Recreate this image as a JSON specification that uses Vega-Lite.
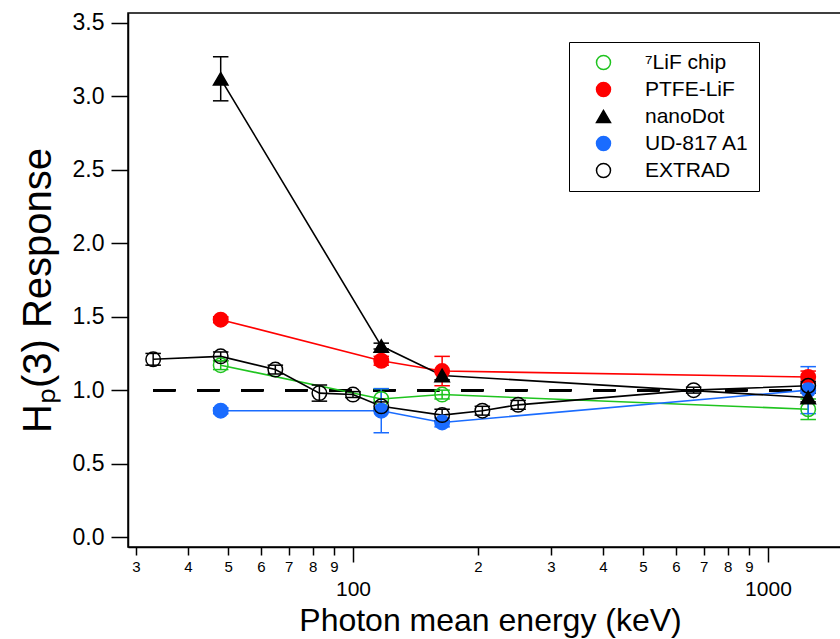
{
  "$schema": "https://vega.github.io/schema/vega-lite/v6.json",
  "width": 724,
  "height": 534,
  "autosize": {"type": "none"},
  "padding": {"left": 128, "top": 13, "right": 0, "bottom": 92},
  "background": "white",
  "config": {
    "font": "Liberation Sans",
    "view": {"stroke": "black", "strokeWidth": 1.5},
    "axis": {
      "grid": false,
      "domainColor": "black",
      "domainWidth": 1.5,
      "tickColor": "black",
      "tickWidth": 1.5,
      "labelColor": "black",
      "titleColor": "black",
      "labelFont": "Liberation Sans",
      "titleFont": "Liberation Sans",
      "titleFontWeight": "normal"
    }
  },
  "data": {
    "values": [
      {"series": "PTFE-LiF", "energy": 48, "response": 1.48, "lo": 1.46, "hi": 1.50},
      {"series": "PTFE-LiF", "energy": 117, "response": 1.20, "lo": 1.17, "hi": 1.23},
      {"series": "PTFE-LiF", "energy": 164, "response": 1.13, "lo": 1.03, "hi": 1.23},
      {"series": "PTFE-LiF", "energy": 1250, "response": 1.09, "lo": 1.05, "hi": 1.13},
      {"series": "⁷LiF chip", "energy": 48, "response": 1.17, "lo": 1.14, "hi": 1.20},
      {"series": "⁷LiF chip", "energy": 117, "response": 0.94, "lo": 0.87, "hi": 1.01},
      {"series": "⁷LiF chip", "energy": 164, "response": 0.97, "lo": 0.94, "hi": 1.00},
      {"series": "⁷LiF chip", "energy": 1250, "response": 0.87, "lo": 0.80, "hi": 0.94},
      {"series": "UD-817 A1", "energy": 48, "response": 0.86, "lo": 0.84, "hi": 0.88},
      {"series": "UD-817 A1", "energy": 117, "response": 0.86, "lo": 0.71, "hi": 1.01},
      {"series": "UD-817 A1", "energy": 164, "response": 0.78, "lo": 0.75, "hi": 0.81},
      {"series": "UD-817 A1", "energy": 1250, "response": 1.00, "lo": 0.84, "hi": 1.16},
      {"series": "nanoDot", "energy": 48, "response": 3.12, "lo": 2.97, "hi": 3.27},
      {"series": "nanoDot", "energy": 117, "response": 1.30, "lo": 1.28, "hi": 1.32},
      {"series": "nanoDot", "energy": 164, "response": 1.10, "lo": 1.07, "hi": 1.13},
      {"series": "nanoDot", "energy": 1250, "response": 0.95, "lo": 0.92, "hi": 0.98},
      {"series": "EXTRAD", "energy": 33, "response": 1.21, "lo": 1.17, "hi": 1.25},
      {"series": "EXTRAD", "energy": 48, "response": 1.23, "lo": 1.20, "hi": 1.26},
      {"series": "EXTRAD", "energy": 65, "response": 1.14, "lo": 1.11, "hi": 1.17},
      {"series": "EXTRAD", "energy": 83, "response": 0.98, "lo": 0.925, "hi": 1.035},
      {"series": "EXTRAD", "energy": 100, "response": 0.97, "lo": 0.95, "hi": 0.99},
      {"series": "EXTRAD", "energy": 117, "response": 0.89, "lo": 0.86, "hi": 0.92},
      {"series": "EXTRAD", "energy": 164, "response": 0.83, "lo": 0.79, "hi": 0.87},
      {"series": "EXTRAD", "energy": 205, "response": 0.86, "lo": 0.83, "hi": 0.89},
      {"series": "EXTRAD", "energy": 250, "response": 0.90, "lo": 0.87, "hi": 0.93},
      {"series": "EXTRAD", "energy": 662, "response": 1.00, "lo": 0.98, "hi": 1.02},
      {"series": "EXTRAD", "energy": 1250, "response": 1.03, "lo": 1.00, "hi": 1.06}
    ]
  },
  "encoding": {
    "x": {
      "field": "energy",
      "type": "quantitative",
      "scale": {"type": "log", "domain": [28.7, 1594], "nice": false},
      "axis": {
        "title": "Photon mean energy (keV)",
        "titleFontSize": 32,
        "titleBaseline": "alphabetic",
        "titleY": 83,
        "values": [30, 40, 50, 60, 70, 80, 90, 100, 200, 300, 400, 500, 600, 700, 800, 900, 1000],
        "labelExpr": "datum.value == 100 || datum.value == 1000 ? format(datum.value, 'd') : datum.value < 100 ? format(datum.value / 10, 'd') : format(datum.value / 100, 'd')",
        "labelFontSize": {"condition": {"test": "datum.value == 100 || datum.value == 1000", "value": 21}, "value": 15},
        "tickSize": {"condition": {"test": "datum.value == 100 || datum.value == 1000", "value": 15}, "value": 8},
        "labelPadding": {"condition": {"test": "datum.value == 100 || datum.value == 1000", "value": 16}, "value": 4},
        "labelFlush": false,
        "labelOverlap": false
      }
    },
    "y": {
      "field": "response",
      "type": "quantitative",
      "scale": {"domain": [-0.068, 3.568], "nice": false, "zero": false},
      "axis": {
        "title": "Hₚ(3) Response",
        "titleFontSize": 40,
        "titleBaseline": "alphabetic",
        "titleAngle": -90,
        "titleX": -78,
        "titleY": 277,
        "titleAlign": "center",
        "values": [0, 0.5, 1, 1.5, 2, 2.5, 3, 3.5],
        "format": ".1f",
        "labelFontSize": 23,
        "tickSize": 17,
        "labelPadding": 7
      }
    },
    "stroke": {
      "field": "series",
      "type": "nominal",
      "scale": {
        "domain": ["⁷LiF chip", "PTFE-LiF", "nanoDot", "UD-817 A1", "EXTRAD"],
        "range": ["#1fc41f", "#ff0000", "#000000", "#1a6cff", "#000000"]
      }
    }
  },
  "layer": [
    {
      "mark": {"type": "rule", "strokeDash": [22, 22], "strokeWidth": 2, "color": "black"},
      "encoding": {
        "x": {"datum": 33},
        "x2": {"datum": 1250},
        "y": {"datum": 1},
        "stroke": {"value": "black"}
      }
    },
    {
      "mark": {"type": "line", "strokeWidth": 1.6}
    },
    {
      "mark": {"type": "rule", "strokeWidth": 1.5},
      "encoding": {
        "y": {"field": "lo", "type": "quantitative"},
        "y2": {"field": "hi"}
      }
    },
    {
      "mark": {"type": "tick", "orient": "horizontal", "size": 14, "thickness": 0.01, "filled": false, "strokeWidth": 1.5, "opacity": 1},
      "encoding": {
        "y": {"field": "lo", "type": "quantitative"}
      }
    },
    {
      "mark": {"type": "tick", "orient": "horizontal", "size": 14, "thickness": 0.01, "filled": false, "strokeWidth": 1.5, "opacity": 1},
      "encoding": {
        "y": {"field": "hi", "type": "quantitative"}
      }
    },
    {
      "mark": {"type": "point", "size": 210, "strokeWidth": 1.5, "opacity": 1},
      "encoding": {
        "shape": {
          "field": "series",
          "type": "nominal",
          "scale": {
            "domain": ["⁷LiF chip", "PTFE-LiF", "nanoDot", "UD-817 A1", "EXTRAD"],
            "range": ["circle", "circle", "triangle-up", "circle", "circle"]
          },
          "legend": {
            "title": null,
            "orient": "none",
            "legendX": 441,
            "legendY": 29,
            "padding": 10,
            "strokeColor": "black",
            "labelFont": "Liberation Sans",
            "labelFontSize": 21,
            "labelColor": "black",
            "symbolSize": 196,
            "symbolStrokeWidth": 1.5,
            "symbolOffset": 14,
            "labelOffset": 31,
            "rowPadding": 5,
            "encode": {
              "legend": {"strokeWidth": {"value": 1.5}}
            }
          }
        },
        "fill": {
          "field": "series",
          "type": "nominal",
          "scale": {
            "domain": ["⁷LiF chip", "PTFE-LiF", "nanoDot", "UD-817 A1", "EXTRAD"],
            "range": ["transparent", "#ff0000", "#000000", "#1a6cff", "transparent"]
          }
        }
      }
    }
  ]
}
